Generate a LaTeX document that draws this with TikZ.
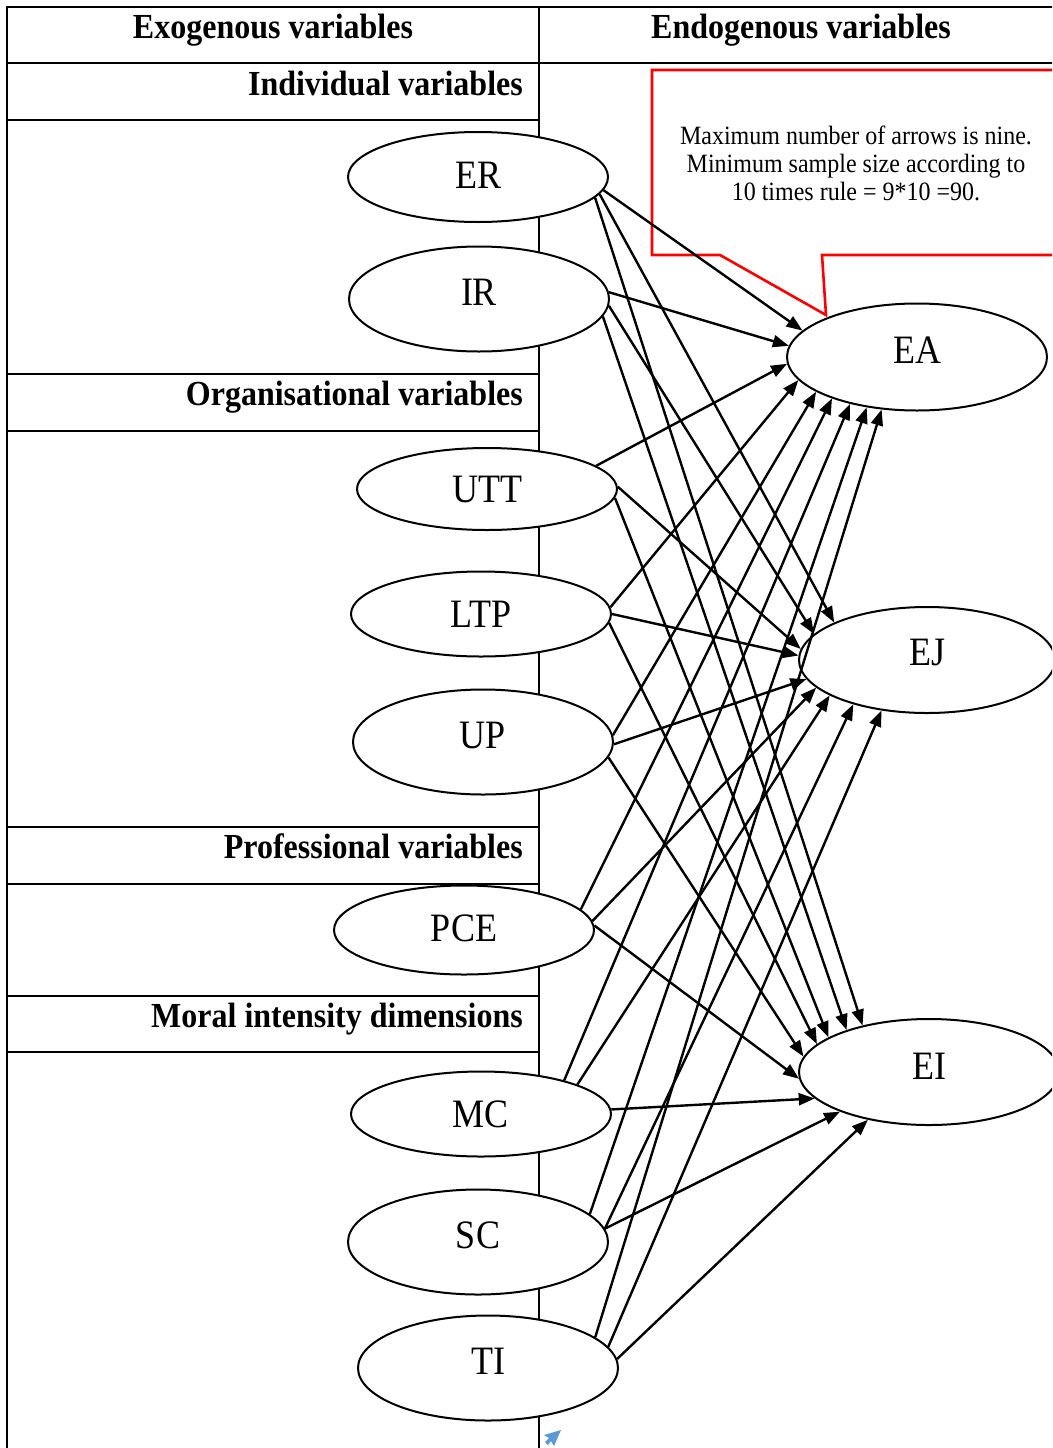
\documentclass[tikz,border=0pt]{standalone}
\usepackage{graphicx}
\usepackage{fontspec}
\setmainfont{Liberation Serif}
\usetikzlibrary{shapes.geometric,arrows.meta}
\definecolor{calloutred}{RGB}{255,0,0}
\definecolor{iconblue}{RGB}{91,155,213}
\newcommand{\talltext}[2]{\scalebox{1}[#1]{#2}}

\begin{document}
\begin{tikzpicture}[x=1pt,y=-1pt,
  rule/.style={line width=2pt},
  var/.style={ellipse, draw, line width=2pt, fill=white, minimum width=260pt,
    inner sep=0pt, font=\fontsize{36}{40}\selectfont, text height=27pt, text depth=0pt},
  head/.style={font=\fontsize{32}{36}\selectfont\bfseries, inner sep=0pt, anchor=base},
  sect/.style={head, anchor=base east},
  link/.style={line width=2.4pt, -{Triangle[length=16pt,width=12pt]}},
]
\useasboundingbox (0,0) rectangle (1052,1448);
\clip (0,0) rectangle (1052,1448);

% table frame
\draw[rule] (7,1448) -- (7,7) -- (1060,7);
\draw[rule] (7,63) -- (1060,63);
\draw[rule] (539,7) -- (539,1448);
\foreach \yy in {120,374,431,827,884,996,1052}
  \draw[rule] (7,\yy) -- (539,\yy);

% column and group headings
\node[head] (hexo) at (273,38) {\talltext{1.1}{Exogenous variables}};
\node[head] (hendo) at (801,38) {\talltext{1.1}{Endogenous variables}};
\node[sect] (hind) at (523,95) {\talltext{1.1}{Individual variables}};
\node[sect] (horg) at (523,405) {\talltext{1.1}{Organisational variables}};
\node[sect] (hpro) at (523,858) {\talltext{1.1}{Professional variables}};
\node[sect] (hmor) at (523,1027) {\talltext{1.1}{Moral intensity dimensions}};

% exogenous constructs (text depth lifts the label in the taller ellipses)
\node[var, minimum height=90pt, text depth=4pt]   (ER)  at (478,177)  {\talltext{1.12}{ER}};
\node[var, minimum height=105pt, text depth=15pt] (IR)  at (479,299)  {\talltext{1.12}{IR}};
\node[var, minimum height=82pt]                   (UTT) at (487,489)  {\talltext{1.12}{UTT}};
\node[var, minimum height=85pt]                   (LTP) at (481,614)  {\talltext{1.12}{LTP}};
\node[var, minimum height=105pt, text depth=15pt] (UP)  at (483,742)  {\talltext{1.12}{UP}};
\node[var, minimum height=89pt, text depth=5pt]   (PCE) at (464,930)  {\talltext{1.12}{PCE}};
\node[var, minimum height=85pt]                   (MC)  at (481,1114) {\talltext{1.12}{MC}};
\node[var, minimum height=105pt, text depth=15pt] (SC)  at (478,1242) {\talltext{1.12}{SC}};
\node[var, minimum height=105pt, text depth=15pt] (TI)  at (488,1368) {\talltext{1.12}{TI}};

% endogenous constructs
\node[var, minimum height=107pt, text depth=15pt] (EA) at (917,357)  {\talltext{1.12}{EA}};
\node[var, minimum height=106pt, minimum width=256pt, text depth=16pt] (EJ) at (927,660) {\talltext{1.12}{EJ}};
\node[var, minimum height=106pt, text depth=12pt] (EI) at (929,1072) {\talltext{1.12}{EI}};

% callout with the sample size note
\draw[calloutred, line width=2.6pt, line join=miter]
  (1060,70) -- (652,70) -- (652,255) -- (720,255) -- (826,315) -- (822,255) -- (1060,255);
\node[font=\fontsize{24}{28}\selectfont, align=center, inner sep=0pt] (note) at (856,163)
  {\talltext{1.1}{Maximum number of arrows is nine.}\\
   \talltext{1.1}{Minimum sample size according to}\\
   \talltext{1.1}{10 times rule = 9*10 =90.}};

% paths to EA, EJ and EI
\draw[link] (ER.-6)  -- (EA.167);
\draw[link] (ER.-8)  -- (EJ.158);
\draw[link] (ER.-10) -- (EI.145);
\draw[link] (IR.3)   -- (EA.175);
\draw[link] (IR.-3)  -- (EJ.167);
\draw[link] (IR.-8)  -- (EI.153);
\draw[link] (UTT.12) -- (EA.183);
\draw[link] (UTT.1)  -- (EJ.175);
\draw[link] (UTT.-4) -- (EI.161);
\draw[link] (LTP.3)  -- (EA.191);
\draw[link] (LTP.0)  -- (EJ.178);
\draw[link] (LTP.-4) -- (EI.166);
\draw[link] (UP.3)   -- (EA.199);
\draw[link] (UP.-1)  -- (EJ.189);
\draw[link] (UP.-7)  -- (EI.173);
\draw[link] (PCE.10) -- (EA.206);
\draw[link] (PCE.4)  -- (EJ.194);
\draw[link] (PCE.2)  -- (EI.183);
\draw[link] (MC.22)  -- (EA.215);
\draw[link] (MC.17)  -- (EJ.200);
\draw[link] (MC.2)   -- (EI.193);
\draw[link] (SC.14)  -- (EA.225);
\draw[link] (SC.6)   -- (EJ.211);
\draw[link] (SC.6)   -- (EI.204);
\draw[link] (TI.16)  -- (EA.236);
\draw[link] (TI.10)  -- (EJ.228);
\draw[link] (TI.4)   -- (EI.218);

% small blue anchor mark
\fill[iconblue] (561,1430) -- (544,1435) -- (549,1438) -- (545,1442) -- (548,1445)
  -- (551,1441) -- (554,1446) -- cycle;
\end{tikzpicture}
\end{document}
